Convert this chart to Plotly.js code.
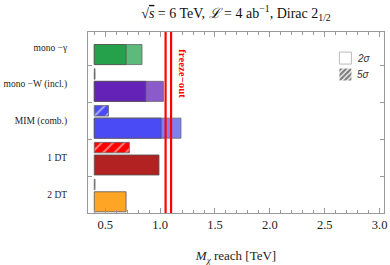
<!DOCTYPE html>
<html>
<head>
<meta charset="utf-8">
<script src="https://cdn.plot.ly/plotly-3.0.1.min.js"></script>
<style>html,body{margin:0;padding:0;background:#fff;}#chart{width:390px;height:265px;}</style>
</head>
<body>
<div id="chart"></div>
<script>
// ---- data ----
const categories = ['mono \u2212\u03b3', 'mono \u2212W (incl.)', 'MIM (comb.)', '1 DT', '2 DT'];
const reachStart = 0.4;                                  // TeV, where every bar starts
const reach2sigma = [0.69, 0.87, 1.01, 0.99, 0.69];      // solid part
const reach2sigmaExt = [0.835, 1.03, 1.19, null, null];  // lighter extension
const reach5sigma = [null, 0.407, 0.53, 0.72, 0.407];    // hatched bars
const freezeOut = [1.05, 1.10];
const xTickVals = [0.5, 1.0, 1.5, 2.0, 2.5, 3.0];
const xTickText = ['0.5', '1.0', '1.5', '2.0', '2.5', '3.0'];

const darkColors = ['#25a04b', '#6522b6', '#4b4bf5', '#b22222', '#ffa526'];
const lightColors = ['#5cba7b', '#8b5bcc', '#8080f6', '#b22222', '#ffa526'];
const hatchColors = ['#4b4bf5', '#5a2a9a', '#4b4bf5', '#ff0000', '#aaaaaa'];

const idx = categories.map((_, i) => i);
const len = arr => arr.map(v => v === null ? null : v - reachStart);

const serif = 'Liberation Serif, Times New Roman, serif';

const traces = [
  {type: 'bar', orientation: 'h', y: idx.map(i => i + 0.2), x: len(reach2sigmaExt), base: reachStart,
   width: 0.545, marker: {color: lightColors, line: {color: '#666', width: 0.8}}, showlegend: false, hoverinfo: 'skip'},
  {type: 'bar', orientation: 'h', y: idx.map(i => i + 0.2), x: len(reach2sigma), base: reachStart,
   width: 0.545, marker: {color: darkColors, line: {color: '#555', width: 0.8}}, showlegend: false, hoverinfo: 'skip'},
  {type: 'bar', orientation: 'h', y: idx.map(i => i - 0.272), x: len(reach5sigma), base: reachStart,
   width: 0.285, marker: {color: hatchColors, line: {color: '#666', width: 0.8},
     pattern: {shape: '/', fillmode: 'overlay', fgcolor: '#ffffff', size: 8, solidity: 0.25}},
   showlegend: false, hoverinfo: 'skip'},
  {type: 'bar', orientation: 'h', y: [null], x: [null], name: ' ', legend: 'legend',
   marker: {color: '#ffffff', line: {color: '#bbbbbb', width: 1}}, showlegend: true},
  {type: 'bar', orientation: 'h', y: [null], x: [null], name: ' ', legend: 'legend2',
   marker: {color: '#ffffff', line: {color: '#ffffff', width: 0},
     pattern: {shape: '/', fillmode: 'overlay', fgcolor: '#000000', size: 4.5, solidity: 0.65}}, showlegend: true}
];

const layout = {
  width: 390, height: 265,
  margin: {l: 88, r: 6, t: 32, b: 52},
  paper_bgcolor: '#fff', plot_bgcolor: '#fff',
  barmode: 'overlay',
  showlegend: true,
  font: {family: serif, color: '#222'},
  title: {text: '\u221a<span style="text-decoration:overline"><i>s</i></span> = 6 TeV, <i>\u2112</i> = 4 ab<sup>\u22121</sup>, Dirac 2<sub>1/2</sub>',
    font: {family: serif, size: 14, color: '#111'}, x: 0.5, xref: 'paper', xanchor: 'center', y: 0.951, yref: 'container', yanchor: 'middle'},
  xaxis: {range: [0.343, 3.04], tickvals: xTickVals, ticktext: xTickText, ticks: 'inside', ticklen: 5, tickcolor: '#999',
    minor: {dtick: 0.1, tick0: 0, ticks: 'inside', ticklen: 3, tickcolor: '#999'},
    showline: true, linecolor: '#999', linewidth: 1, mirror: 'allticks', showgrid: false, zeroline: false,
    tickfont: {family: serif, size: 12.5, color: '#222'},
    title: {text: '<i>M</i><sub><i>\u03c7</i></sub> reach [TeV]', font: {family: serif, size: 13, color: '#222'}}},
  yaxis: {range: [4.505, -0.413], tickvals: idx, ticktext: categories, ticks: 'inside', ticklen: 0,
    minor: {tickmode: 'array', tickvals: [0.5, 1.5, 2.5, 3.5], ticks: 'inside', ticklen: 4, tickcolor: '#999'},
    showline: true, linecolor: '#999', linewidth: 1, mirror: 'allticks', showgrid: false, zeroline: false,
    ticklabelstandoff: 18, tickfont: {family: serif, size: 9.5, color: '#222'}},
  legend: {x: 0.802, y: 0.856, xanchor: 'left', yanchor: 'middle', bgcolor: 'rgba(0,0,0,0)', borderwidth: 0, font: {size: 10}},
  legend2: {x: 0.802, y: 0.765, xanchor: 'left', yanchor: 'middle', bgcolor: 'rgba(0,0,0,0)', borderwidth: 0, font: {size: 10}},
  shapes: freezeOut.map(v => ({type: 'line', xref: 'x', yref: 'paper', x0: v, x1: v, y0: 0, y1: 1,
    line: {color: '#ff0000', width: 2.2}})),
  annotations: [
    {text: '<b>freeze\u2212out</b>', xref: 'x', yref: 'y', x: 1.207, y: 0.73, textangle: 90, showarrow: false,
     font: {family: serif, size: 10.8, color: '#ff0000'}},
    {text: '<i>2\u03c3</i>', xref: 'paper', yref: 'paper', x: 0.902, y: 0.856, xanchor: 'left', yanchor: 'middle', showarrow: false,
     font: {family: 'Liberation Sans, Arial, sans-serif', size: 10, color: '#333'}},
    {text: '<i>5\u03c3</i>', xref: 'paper', yref: 'paper', x: 0.902, y: 0.765, xanchor: 'left', yanchor: 'middle', showarrow: false,
     font: {family: 'Liberation Sans, Arial, sans-serif', size: 10, color: '#333'}}
  ]
};

Plotly.newPlot('chart', traces, layout, {displayModeBar: false, staticPlot: true});
</script>
</body>
</html>
